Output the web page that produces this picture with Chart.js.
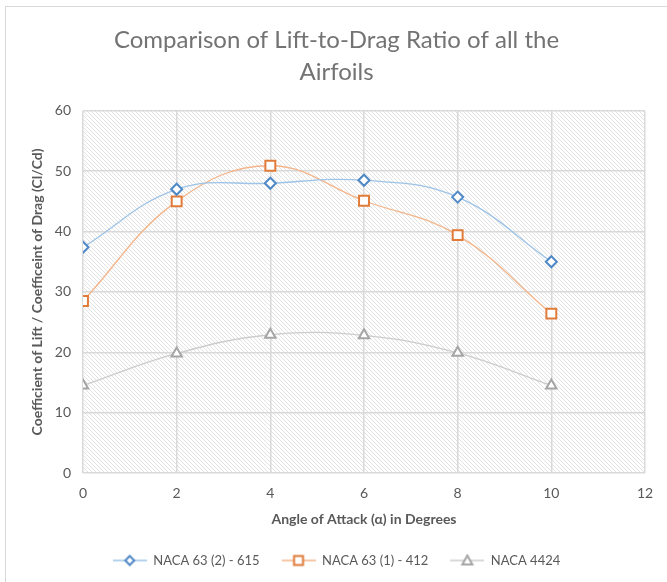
<!DOCTYPE html>
<html>
<head>
<meta charset="utf-8">
<script src="https://cdn.jsdelivr.net/npm/chart.js@4/dist/chart.umd.min.js"></script>
<style>
  html, body { margin: 0; padding: 0; background: #ffffff; }
  #frame { position: relative; width: 667px; height: 582px; overflow: hidden; }
  #frame::before { content: ""; position: absolute; left: 5px; top: 6px; right: -2px; bottom: -2px;
    border-left: 1px solid #d9d9d9; border-top: 1px solid #d9d9d9; pointer-events: none; }
  canvas { display: block; }
</style>
</head>
<body>
<div id="frame"><canvas id="chart" width="667" height="582"></canvas></div>
<script>
// Angle of attack (degrees)
const angles = [0, 2, 4, 6, 8, 10];
// Lift-to-drag ratio (Cl/Cd) per airfoil
const naca632615 = [37.4, 47.0, 48.0, 48.5, 45.7, 35.0];
const naca631412 = [28.5, 45.0, 50.9, 45.1, 39.4, 26.4];
const naca4424   = [14.5, 19.8, 22.9, 22.8, 19.9, 14.5];
const seriesNames = ['NACA 63 (2) - 615', 'NACA 63 (1) - 412', 'NACA 4424'];
const xTicks = [0, 2, 4, 6, 8, 10, 12];
const yTicks = [0, 10, 20, 30, 40, 50, 60];

const FONT = 'Lato, "Open Sans", "Liberation Sans", sans-serif';
const TEXT = '#595959';

function pairs(ys) { return angles.map((x, i) => ({ x, y: ys[i] })); }

// Diagonal hatch used as the plot-area fill
function hatchPattern(ctx) {
  const c = document.createElement('canvas');
  c.width = 4; c.height = 4;
  const g = c.getContext('2d');
  g.fillStyle = '#ffffff';
  g.fillRect(0, 0, 4, 4);
  g.strokeStyle = '#e2e2e2';
  g.lineWidth = 1;
  g.beginPath();
  g.moveTo(-1, -1); g.lineTo(5, 5);
  g.moveTo(-1, 3); g.lineTo(1, 5);
  g.moveTo(3, -1); g.lineTo(5, 1);
  g.stroke();
  return ctx.createPattern(c, 'repeat');
}

// Legend swatch: short line with the series marker in the middle
function legendSwatch(lineColor, markColor, shape) {
  const w = 34, h = 14;
  const c = document.createElement('canvas');
  c.width = w; c.height = h;
  const g = c.getContext('2d');
  g.strokeStyle = lineColor; g.lineWidth = 1.3;
  g.beginPath(); g.moveTo(0, h / 2); g.lineTo(w, h / 2); g.stroke();
  g.strokeStyle = markColor; g.fillStyle = '#ffffff'; g.lineWidth = 2;
  const cx = w / 2, cy = h / 2;
  g.beginPath();
  if (shape === 'diamond') {
    g.moveTo(cx, cy - 4.5); g.lineTo(cx + 4.5, cy); g.lineTo(cx, cy + 4.5); g.lineTo(cx - 4.5, cy); g.closePath();
  } else if (shape === 'square') {
    g.rect(cx - 4.5, cy - 4.5, 9, 9);
  } else {
    g.moveTo(cx, cy - 5); g.lineTo(cx + 5, cy + 4); g.lineTo(cx - 5, cy + 4); g.closePath();
  }
  g.fill(); g.stroke();
  return c;
}

const styles = [
  { line: '#9dc3e6', mark: '#4f88c6', style: 'rectRot', radius: 5.5, shape: 'diamond' },
  { line: '#f4b58a', mark: '#e07b39', style: 'rect', radius: 7, shape: 'square' },
  { line: '#cccccc', mark: '#a5a5a5', style: 'triangle', radius: 6, shape: 'triangle' }
];
const swatches = styles.map(s => legendSwatch(s.line, s.mark, s.shape));

const plotBackground = {
  id: 'plotBackground',
  beforeDraw(chart) {
    const { ctx, chartArea: a } = chart;
    ctx.save();
    ctx.fillStyle = hatchPattern(ctx);
    ctx.fillRect(a.left, a.top, a.right - a.left, a.bottom - a.top);
    ctx.restore();
  }
};

const values = [naca632615, naca631412, naca4424];
const datasets = values.map((ys, i) => ({
  label: seriesNames[i],
  data: pairs(ys),
  borderColor: styles[i].line,
  borderWidth: 1.3,
  pointStyle: styles[i].style,
  pointRadius: styles[i].radius,
  pointBorderColor: styles[i].mark,
  pointBackgroundColor: '#ffffff',
  pointBorderWidth: 2,
  tension: 0.4,
  fill: false
}));

new Chart(document.getElementById('chart'), {
  type: 'line',
  data: { datasets },
  plugins: [plotBackground],
  options: {
    responsive: false,
    animation: false,
    layout: { padding: { top: 24, left: 28, right: 22, bottom: 5 } },
    plugins: {
      title: {
        display: true,
        text: ['Comparison of Lift-to-Drag Ratio of all the', 'Airfoils'],
        color: '#737373',
        font: { family: FONT, size: 24, weight: 'normal', lineHeight: 1.35 },
        padding: { top: 0, bottom: 22 }
      },
      legend: {
        position: 'bottom',
        labels: {
          color: TEXT,
          font: { family: FONT, size: 13 },
          usePointStyle: true,
          pointStyleWidth: 34,
          padding: 22,
          generateLabels: (chart) => chart.data.datasets.map((ds, i) => ({
            text: ds.label,
            pointStyle: swatches[i],
            fontColor: TEXT,
            lineWidth: 0,
            strokeStyle: 'transparent',
            fillStyle: 'transparent',
            datasetIndex: i,
            hidden: false
          }))
        }
      },
      tooltip: { enabled: false }
    },
    scales: {
      x: {
        type: 'linear',
        min: xTicks[0],
        max: xTicks[xTicks.length - 1],
        afterBuildTicks: (axis) => { axis.ticks = xTicks.map(v => ({ value: v })); },
        grid: { color: '#d9d9d9', lineWidth: 1.5, drawTicks: false },
        border: { display: false },
        ticks: { color: TEXT, font: { family: FONT, size: 14 }, padding: 12 },
        title: {
          display: true,
          text: 'Angle of Attack (α) in Degrees',
          color: TEXT,
          font: { family: FONT, size: 14, weight: 'bold' },
          padding: { top: 8, bottom: 4 }
        },
        afterFit: (axis) => { axis.height = 59; }
      },
      y: {
        min: yTicks[0],
        max: yTicks[yTicks.length - 1],
        afterBuildTicks: (axis) => { axis.ticks = yTicks.map(v => ({ value: v })); },
        grid: { color: '#d9d9d9', lineWidth: 1.5, drawTicks: false },
        border: { display: false },
        ticks: { color: TEXT, font: { family: FONT, size: 14 }, padding: 12 },
        title: {
          display: true,
          text: 'Coefficient of Lift / Coefficeint of Drag (Cl/Cd)',
          color: TEXT,
          font: { family: FONT, size: 14, weight: 'bold' },
          padding: { top: 1, bottom: 4 }
        },
        afterFit: (axis) => { axis.width = 55; }
      }
    }
  }
});
</script>
</body>
</html>
